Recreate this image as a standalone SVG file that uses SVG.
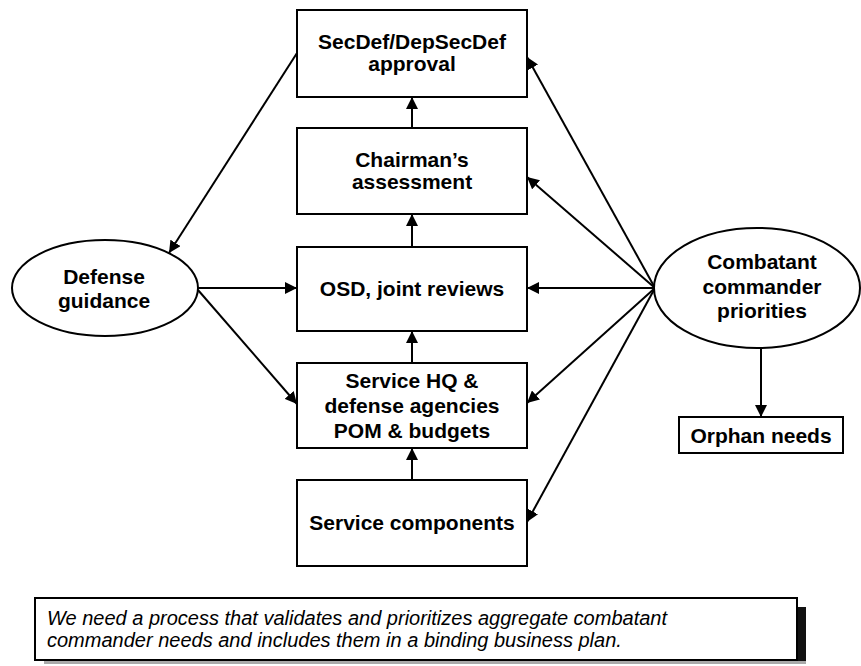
<svg xmlns="http://www.w3.org/2000/svg" width="861" height="666" viewBox="0 0 861 666">
<style>
.box{fill:#fff;stroke:#000;stroke-width:2}
.t{font-family:"Liberation Sans",Arial,sans-serif;font-weight:bold;font-size:21px;fill:#000;text-anchor:middle}
.it{font-family:"Liberation Sans",Arial,sans-serif;font-style:italic;font-size:20px;fill:#000}
.c{fill:none;stroke:#000;stroke-width:2;marker-end:url(#ah)}
</style>
<defs>
<marker id="ah" markerUnits="userSpaceOnUse" markerWidth="13" markerHeight="12" refX="12" refY="6" orient="auto">
<path d="M0,0 L12,6 L0,12 z" fill="#000"/>
</marker>
</defs>
<rect width="861" height="666" fill="#fff"/>
<g id="connectors">
<path class="c" d="M412,128 L412,97"/>
<path class="c" d="M412,247 L412,214"/>
<path class="c" d="M412,363 L412,331"/>
<path class="c" d="M412,480 L412,448"/>
<path class="c" d="M297,53 L169,253"/>
<path class="c" d="M198,288 L297,288"/>
<path class="c" d="M198,290 L297,404"/>
<path class="c" d="M655,288 L527,57"/>
<path class="c" d="M655,288 L527,177"/>
<path class="c" d="M655,288 L527,288"/>
<path class="c" d="M655,288 L527,403"/>
<path class="c" d="M655,288 L527,522"/>
<path class="c" d="M761,348 L761,417"/>
</g>
<g id="secdef">
<rect class="box" x="297" y="10" width="230" height="87"/>
<text class="t" x="412" y="49">SecDef/DepSecDef</text>
<text class="t" x="412" y="71">approval</text>
</g>
<g id="chairman">
<rect class="box" x="297" y="128" width="230" height="86"/>
<text class="t" x="412" y="167">Chairman’s</text>
<text class="t" x="412" y="189">assessment</text>
</g>
<g id="osd">
<rect class="box" x="297" y="247" width="230" height="84"/>
<text class="t" x="412" y="296">OSD, joint reviews</text>
</g>
<g id="servicehq">
<rect class="box" x="297" y="363" width="230" height="85"/>
<text class="t" x="412" y="388">Service HQ &amp;</text>
<text class="t" x="412" y="413">defense agencies</text>
<text class="t" x="412" y="438">POM &amp; budgets</text>
</g>
<g id="components">
<rect class="box" x="297" y="480" width="230" height="86"/>
<text class="t" x="412" y="530">Service components</text>
</g>
<g id="defense">
<ellipse class="box" cx="105" cy="288" rx="93" ry="48"/>
<text class="t" x="104" y="284">Defense</text>
<text class="t" x="104" y="308">guidance</text>
</g>
<g id="combatant">
<ellipse class="box" cx="757" cy="288" rx="103" ry="60"/>
<text class="t" x="762" y="269">Combatant</text>
<text class="t" x="762" y="294">commander</text>
<text class="t" x="762" y="318">priorities</text>
</g>
<g id="orphan">
<rect class="box" x="679" y="417" width="164" height="36"/>
<text class="t" x="761" y="443">Orphan needs</text>
</g>
<g id="note">
<rect x="797" y="607" width="9" height="57" fill="#111"/>
<rect x="44" y="661" width="762" height="3" fill="#aaa"/>
<rect class="box" x="35" y="598" width="762" height="62"/>
<text class="it" x="47" y="625">We need a process that validates and prioritizes aggregate combatant</text>
<text class="it" x="47" y="647">commander needs and includes them in a binding business plan.</text>
</g>
</svg>
